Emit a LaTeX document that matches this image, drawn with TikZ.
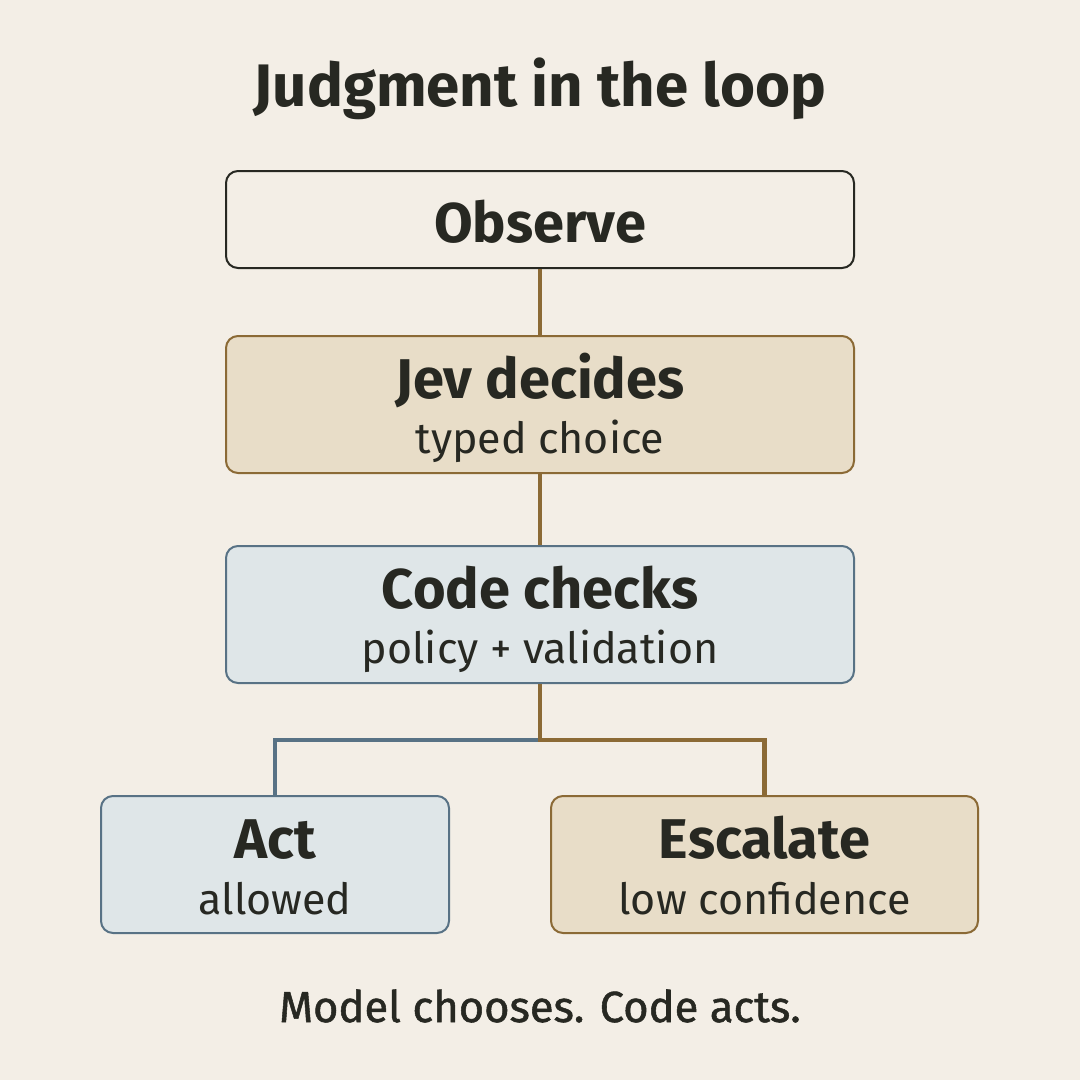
\documentclass[tikz,border=0pt]{standalone}
\usepackage{fontspec}
\setmainfont{Fira Sans}
\newfontfamily\medfont[FakeBold=1.2]{Fira Sans}
\definecolor{bg}{HTML}{F3EEE6}
\definecolor{ink}{HTML}{272822}
\definecolor{tanfill}{HTML}{E8DDC8}
\definecolor{tanline}{HTML}{8B6A36}
\definecolor{bluefill}{HTML}{DFE6E8}
\definecolor{blueline}{HTML}{587285}
\tikzset{
  box/.style={rounded corners=12pt, line width=2pt, inner sep=0pt, anchor=center},
  plainbox/.style={box, draw=ink},
  tanbox/.style={box, draw=tanline, fill=tanfill},
  bluebox/.style={box, draw=blueline, fill=bluefill},
  head/.style={anchor=base, text=ink, inner sep=0pt, font=\fontsize{56}{60}\selectfont\bfseries},
  sub/.style={anchor=base, text=ink, inner sep=0pt, font=\fontsize{43}{46}\selectfont},
  tanconn/.style={draw=tanline, line width=4.5pt},
  blueconn/.style={draw=blueline, line width=4.5pt},
}
\begin{document}
\begin{tikzpicture}[x=1pt,y=-1pt]
\fill[bg] (0,0) rectangle (1080,1080);
\useasboundingbox (0,0) rectangle (1080,1080);
\node[anchor=base, text=ink, inner sep=0pt, font=\fontsize{60}{64}\selectfont\bfseries] (title) at (540,106) {Judgment in the loop};

\node[plainbox, minimum width=628pt, minimum height=97pt] (obs) at (540,219.5) {};
\node[tanbox, minimum width=628pt, minimum height=137pt] (jev) at (540,404.5) {};
\node[bluebox, minimum width=628pt, minimum height=137pt] (code) at (540,614.5) {};
\node[bluebox, minimum width=348pt, minimum height=137pt] (act) at (275,864.5) {};
\node[tanbox, minimum width=427pt, minimum height=137pt] (esc) at (764.5,864.5) {};

\node[head] (obsT) at (540,242) {Observe};
\node[head] (jevT) at (540,398) {Jev decides};
\node[sub] (jevS) at (540,453) {typed choice};
\node[head] (codeT) at (540,608) {Code checks};
\node[sub] (codeS) at (540,663) {policy + validation};
\node[head] (actT) at (275,858) {Act};
\node[sub] (actS) at (275,914) {allowed};
\node[head] (escT) at (764.5,858) {Escalate};
\node[sub] (escS) at (764.5,914) {low confidence};

\node[anchor=base, text=ink, inner sep=0pt, font=\fontsize{43.5}{46}\selectfont\medfont] (foot) at (540,1022) {Model chooses. Code acts.};

\coordinate (branch) at (540,740);
\draw[tanconn] (obs.south) -- (jev.north);
\draw[tanconn] (jev.south) -- (code.north);
\draw[blueconn] (branch) -| (act.north);
\draw[tanconn] (code.south) -- (branch) -| (esc.north);
\end{tikzpicture}
\end{document}
